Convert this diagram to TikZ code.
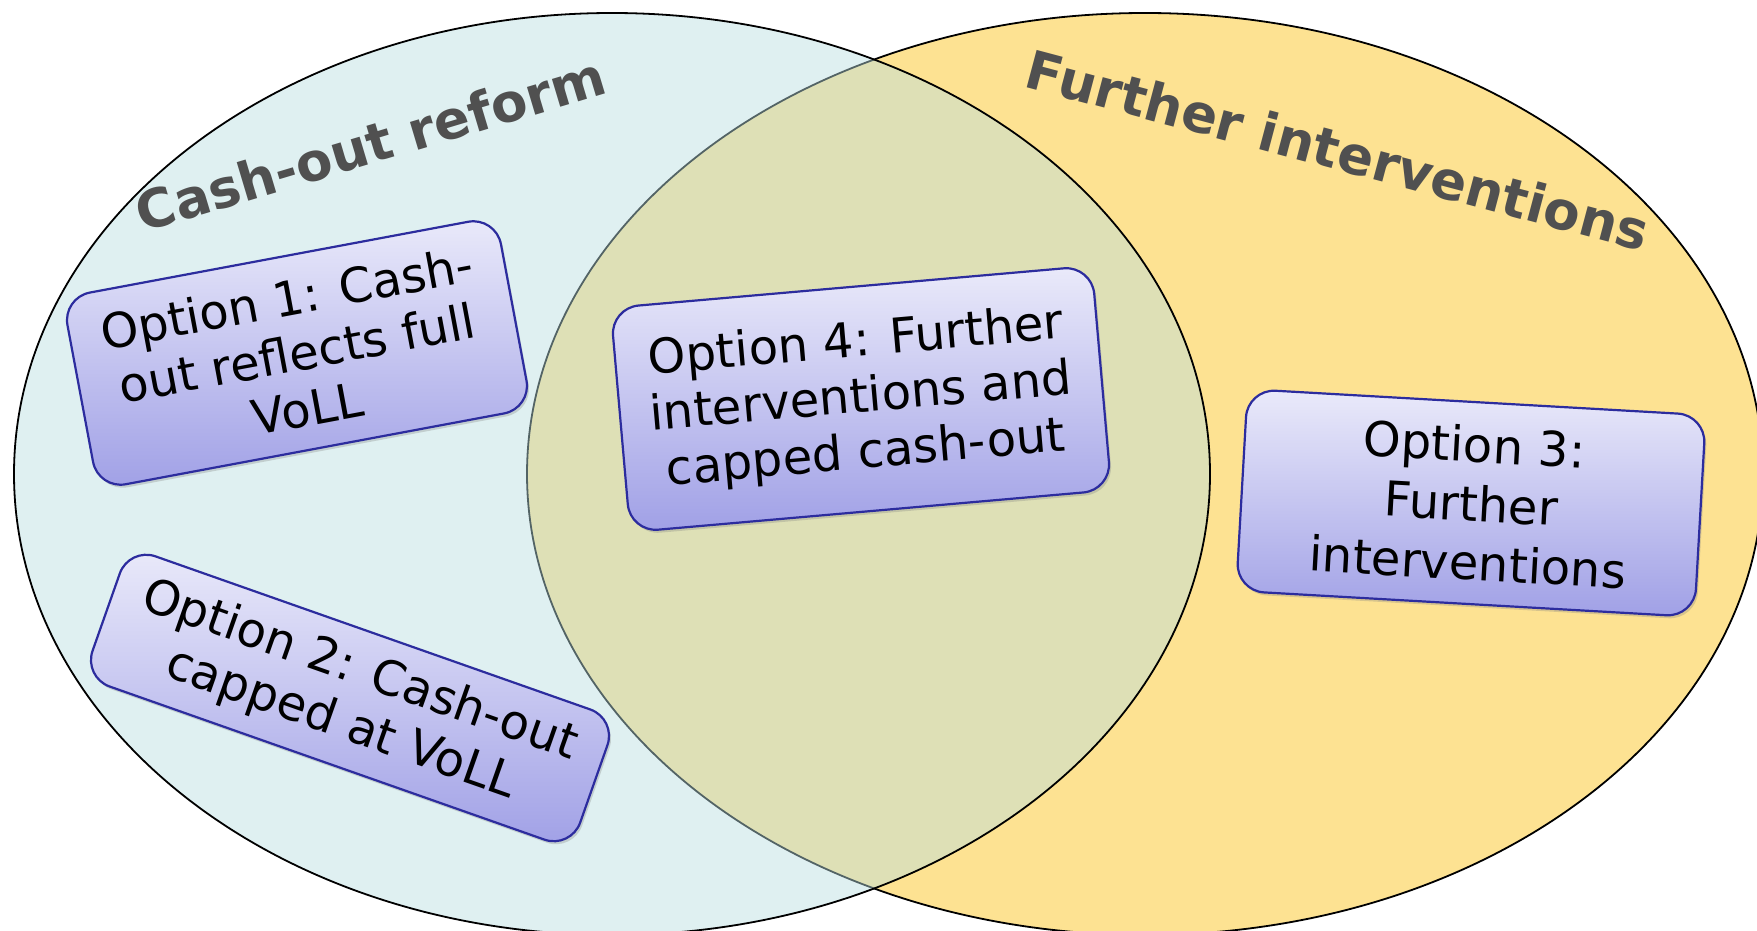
\documentclass[tikz,border=0pt]{standalone}
\usepackage{fontspec}
\setmainfont{DejaVu Sans}
\usetikzlibrary{shadows}

\definecolor{ringyellow}{RGB}{253,226,146}
\definecolor{ringblue}{RGB}{186,222,226}
\definecolor{boxtop}{RGB}{234,234,250}
\definecolor{boxbot}{RGB}{160,160,230}
\definecolor{boxline}{RGB}{44,44,158}
\definecolor{titlegray}{RGB}{80,80,80}

\tikzset{
  setring/.style={draw=black, line width=1.8pt},
  settitle/.style={font=\fontsize{53}{60}\selectfont\bfseries, text=titlegray,
    anchor=base, inner sep=0pt},
  optbox/.style={draw=boxline, line width=2.2pt, rounded corners=28pt,
    top color=boxtop, bottom color=boxbot, inner sep=0pt, align=center,
    font=\fontsize{48}{56}\selectfont,
    drop shadow={opacity=0.3, shadow xshift=2pt, shadow yshift=-3pt}},
}

\begin{document}
\begin{tikzpicture}[x=1pt, y=-1pt]
  \useasboundingbox (0,0) rectangle (1757,931);
  \clip (0,0) rectangle (1757,931);
  \fill[white] (0,0) rectangle (1757,931);

  % the two sets: yellow below, translucent blue above
  \draw[setring, fill=ringyellow] (1145,474) ellipse [x radius=618, y radius=461];
  \draw[setring, fill=ringblue, fill opacity=0.45] (612,474) ellipse [x radius=598, y radius=461];

  % set titles
  \node[settitle, rotate=16.7] (cashtitle) at (376,163) {Cash-out reform};
  \node[settitle, rotate=-14.9] (furthertitle) at (1333,169) {Further interventions};

  % options
  \node[optbox, rotate=10.6, minimum width=441pt, minimum height=195pt]
    (opt1) at (297,353) {Option 1: Cash-\\out reflects full\\VoLL};
  \node[optbox, rotate=-19.4, minimum width=517pt, minimum height=138pt]
    (opt2) at (350,698) {Option 2: Cash-out\\capped at VoLL};
  \node[optbox, rotate=5.0, minimum width=483pt, minimum height=225pt]
    (opt4) at (861,399) {Option 4: Further\\interventions and\\capped cash-out};
  \node[optbox, rotate=-3.25, minimum width=459pt, minimum height=202pt,
    font=\fontsize{48}{59}\selectfont]
    (opt3) at (1471,503) {Option 3:\\Further\\interventions};
\end{tikzpicture}
\end{document}
